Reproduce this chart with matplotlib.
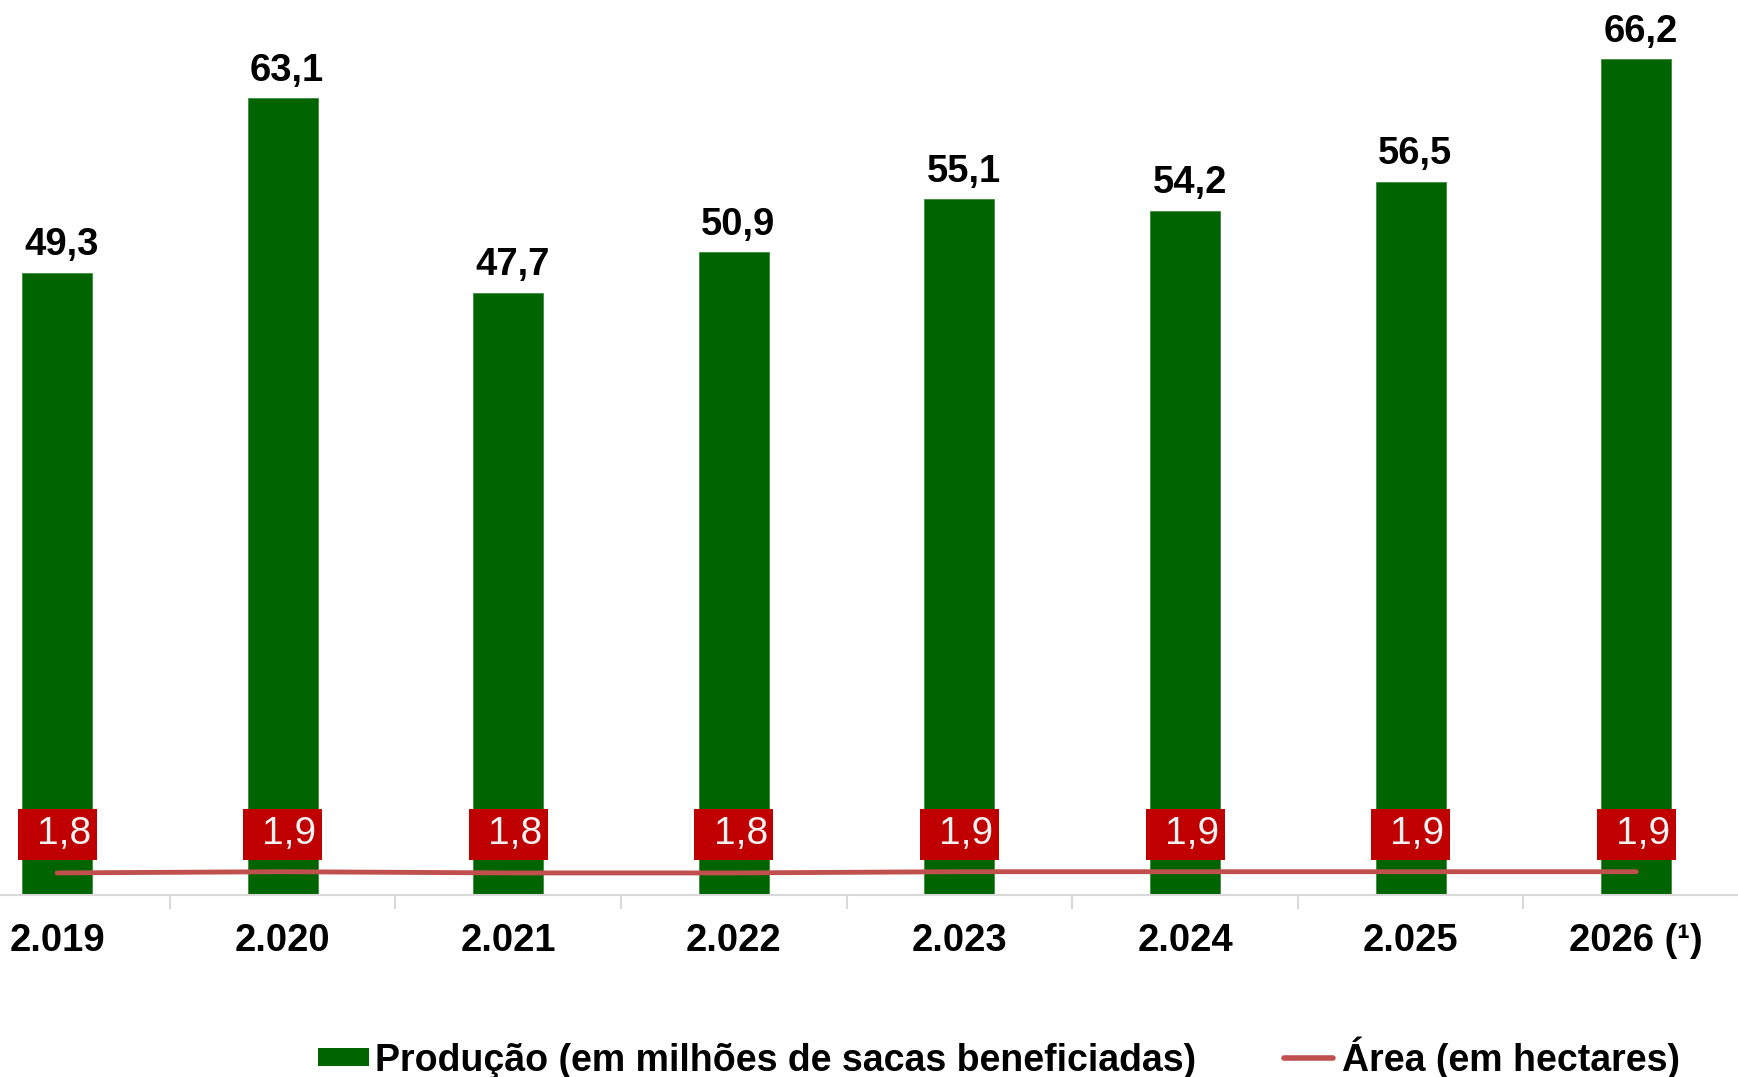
import matplotlib
matplotlib.use("Agg")
from matplotlib import pyplot as plt
from matplotlib.patches import Rectangle
from matplotlib.lines import Line2D
import numpy

# data
years       = ['2.019', '2.020', '2.021', '2.022', '2.023', '2.024', '2.025', '2026 (¹)']
producao    = [49.3, 63.1, 47.7, 50.9, 55.1, 54.2, 56.5, 66.2]
area        = [1.8, 1.9, 1.8, 1.8, 1.9, 1.9, 1.9, 1.9]

GREEN   = '#006400'
RED_BOX = '#C00000'
LINE    = '#C0504D'
AXIS    = '#D9D9D9'

plt.rcParams['font.family'] = ['Liberation Sans', 'DejaVu Sans']
NARROW = ['Liberation Sans Narrow', 'Liberation Sans', 'DejaVu Sans']

fig = plt.figure(figsize=(17.38, 10.77), dpi=100)
ax  = fig.add_axes([0.0, 1 - 895 / 1077, 1.0, 895 / 1077])

x = numpy.arange(len(years))
ax.bar(x, producao, width=0.31, color=GREEN, edgecolor='#3C8C3C', linewidth=0.6, zorder=2)
ax.set_xlim(-0.253, 7.451)
ax.set_ylim(0, 70.9)

# value labels above bars
for xi, v in zip(x, producao):
    ax.text(xi + 0.02, v + 1.4, f'{v:.1f}'.replace('.', ','), ha='center', va='baseline',
            fontsize=27.5, fontweight='bold', color='black')

# red boxes with area values
boxW, boxH, boxY = 0.35, 4.04, 4.8
for xi, a in zip(x, area):
    ax.add_patch(Rectangle((xi - boxW / 2, boxY - boxH / 2), boxW, boxH,
                           facecolor=RED_BOX, edgecolor='none', zorder=4))
    ax.text(xi + 0.03, boxY, f'{a:.1f}'.replace('.', ','), ha='center', va='center',
            fontsize=28, color='#F2F2F2', zorder=5)

# axes styling
for side in ['top', 'right', 'left']:
    ax.spines[side].set_visible(False)
ax.spines['bottom'].set_color(AXIS)
ax.spines['bottom'].set_linewidth(1.5)
ax.set_yticks([])
ax.set_xticks(x)
ax.set_xticklabels(years, fontsize=27.5, fontweight='bold')
ax.tick_params(axis='x', which='major', length=0, pad=20)
ax.set_xticks(x[:-1] + 0.5, minor=True)
ax.tick_params(axis='x', which='minor', length=10, width=1.5, color=AXIS)

# area line on a secondary scale
ax2 = ax.twinx()
ax2.plot(x, area, color=LINE, linewidth=3.5, solid_capstyle='round', zorder=3)
ax2.set_ylim(0, 73)
ax2.axis('off')

# legend drawn by hand at the bottom
fig.patches.append(Rectangle((318 / 1738, 1 - 1066 / 1077), 51 / 1738, 18 / 1077,
                             transform=fig.transFigure, facecolor=GREEN, edgecolor='none'))
fig.text(375 / 1738, 1 - 1071 / 1077, 'Produção (em milhões de sacas beneficiadas)',
         family=NARROW, fontsize=27, fontweight='bold', va='baseline', ha='left')
fig.lines.append(Line2D([1284 / 1738, 1333 / 1738], [1 - 1058 / 1077, 1 - 1058 / 1077],
                        transform=fig.transFigure, color=LINE, linewidth=4,
                        solid_capstyle='round'))
fig.text(1342 / 1738, 1 - 1071 / 1077, 'Área (em hectares)',
         family=NARROW, fontsize=27, fontweight='bold', va='baseline', ha='left')

fig.savefig('out.png', dpi=100)
